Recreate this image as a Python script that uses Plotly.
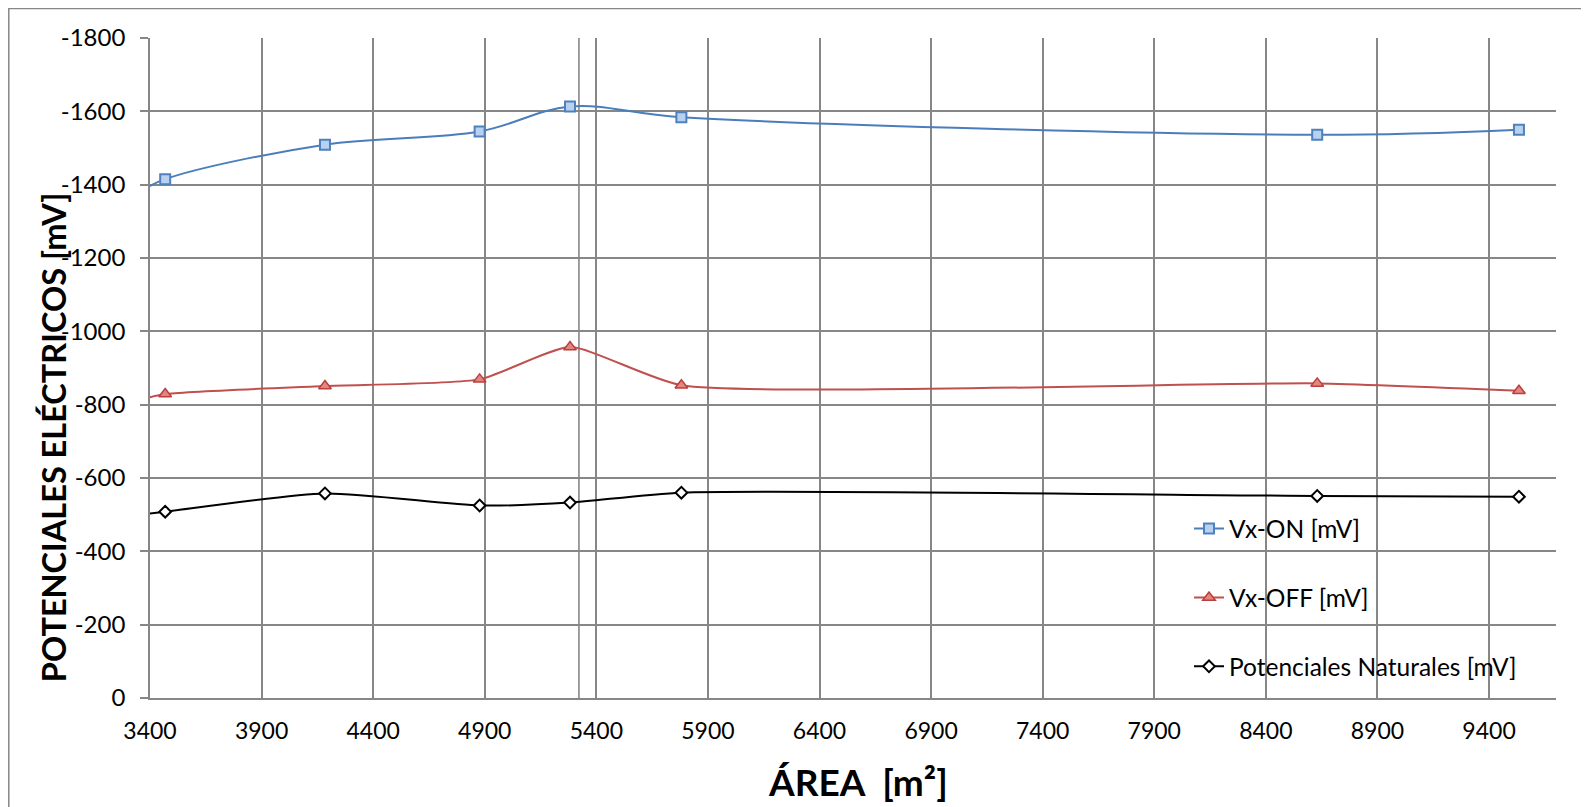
import plotly.graph_objects as go

# Data (first x value lies just left of the visible axis; the curves enter from the left edge)
area = [3330, 3468, 4184, 4877, 5282, 5781, 8630, 9534]
vx_on = [-1372, -1415, -1509, -1545, -1613, -1584, -1536, -1550]
vx_off = [-809, -829, -851, -869, -957, -853, -858, -838]
nat = [-498, -508, -558, -525, -533, -560, -551, -549]

y_ticks = [0, -200, -400, -600, -800, -1000, -1200, -1400, -1600, -1800]
y_ticktext = ["0", "-200", "-400", "-600", "-800", "-1000", "-1200", "-1400", "-1600", "-1800"]
x_ticks = [3400, 3900, 4400, 4900, 5400, 5900, 6400, 6900, 7400, 7900, 8400, 8900, 9400]

FONT = "Lato"
GRID = "#878787"

fig = go.Figure()
fig.add_trace(go.Scatter(
    x=area, y=vx_on, name="Vx-ON [mV]", mode="lines+markers", legendgroup="a",
    line=dict(color="#4A7EBB", width=2, shape="spline", smoothing=1.0),
    marker=dict(symbol="square", size=10, color="#B9D1F0", line=dict(color="#4F81BD", width=2)),
))
fig.add_trace(go.Scatter(
    x=area, y=vx_off, name="Vx-OFF [mV]", mode="lines+markers", legendgroup="b",
    line=dict(color="#C0504D", width=2, shape="spline", smoothing=0.55),
    marker=dict(symbol="triangle-up", size=11, color="#E38581", line=dict(color="#B9403C", width=1.5)),
))
fig.add_trace(go.Scatter(
    x=area, y=nat, name="Potenciales Naturales [mV]", mode="lines+markers", legendgroup="c",
    line=dict(color="#000000", width=2, shape="spline", smoothing=0.65),
    marker=dict(symbol="diamond", size=9, color="#FFFFFF", line=dict(color="#000000", width=2)),
))

# The page adds an 8px body margin; size the figure so the plot lands where the reference has it.
OFF = 8
W, H = 1589 - OFF, 807 - OFF
PL, PR, PT, PB = 150, 1556, 37.5, 698   # plot area in page pixels
L, R = PL - OFF, (OFF + W) - PR
T, B = PT - OFF, (OFF + H) - PB
pw, ph = PR - PL, PB - PT

def px(x):
    return (x - PL) / pw

def py(y):
    return (PB - y) / ph

fig.update_layout(
    width=W, height=H,
    margin=dict(l=L, r=R, t=T, b=B, autoexpand=False),
    paper_bgcolor="white", plot_bgcolor="white",
    font=dict(family=FONT, size=23, color="#000000"),
    showlegend=True,
    legend=dict(
        x=px(1189), y=py(506), xanchor="left", yanchor="top",
        font=dict(family=FONT, size=24.5, color="#000000"),
        bgcolor="rgba(0,0,0,0)", tracegroupgap=34, traceorder="grouped",
    ),
    xaxis=dict(
        range=[3400, 9700], tickvals=x_ticks, showgrid=True, gridcolor=GRID, gridwidth=1.6,
        showline=True, linecolor=GRID, linewidth=1.6, zeroline=False,
        ticks="", tickfont=dict(family=FONT, size=23), ticklabelstandoff=12,
    ),
    yaxis=dict(
        range=[0, -1800], tickvals=y_ticks, ticktext=y_ticktext, showgrid=True,
        gridcolor=GRID, gridwidth=1.6, showline=True, linecolor=GRID, linewidth=1.6,
        zeroline=False, ticks="outside", ticklen=8, tickcolor=GRID, tickwidth=1.6,
        tickfont=dict(family=FONT, size=24), ticklabelstandoff=10,
    ),
    annotations=[
        dict(text="<b>ÁREA  [m²]</b>", x=px(858), y=py(782), xref="paper", yref="paper",
             showarrow=False, xanchor="center", yanchor="middle",
             font=dict(family=FONT, size=37, color="#000000")),
        dict(text="<b>POTENCIALES ELÉCTRICOS [mV]</b>", x=px(53), y=py(437), xref="paper", yref="paper",
             showarrow=False, xanchor="center", yanchor="middle", textangle=-90,
             font=dict(family=FONT, size=32.5, color="#000000")),
    ],
    shapes=[
        dict(type="line", xref="x", yref="y", x0=5322, x1=5322, y0=0, y1=-1800,
             line=dict(color=GRID, width=1.6), layer="below"),
        dict(type="rect", xref="paper", yref="paper", x0=px(OFF + 0.8), x1=px(1600), y0=py(820), y1=py(OFF),
             line=dict(color=GRID, width=1.5), layer="below"),
    ],
)

fig.write_html("out.html")
